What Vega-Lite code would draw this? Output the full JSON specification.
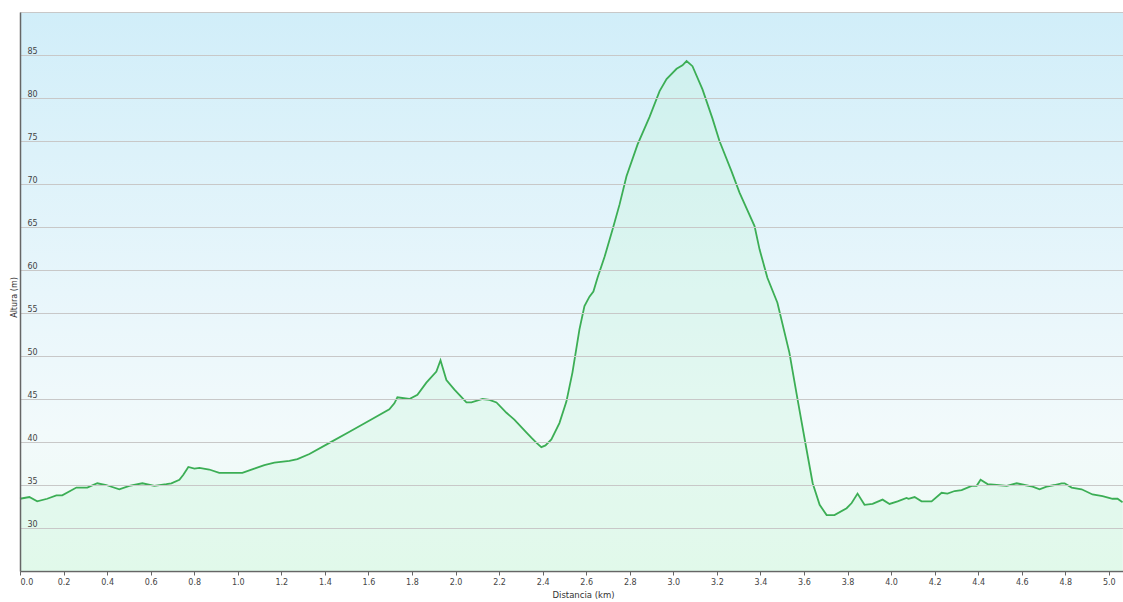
{
  "$schema": "https://vega.github.io/schema/vega-lite/v6.json",
  "width": 1103,
  "height": 559,
  "autosize": "none",
  "padding": {"left": 20, "top": 12, "right": 0, "bottom": 31},
  "background": "#ffffff",
  "config": {
    "font": "DejaVu Sans",
    "view": {
      "stroke": "#c8c8c8",
      "strokeWidth": 1,
      "fill": {"gradient": "linear", "x1": 0, "y1": 0, "x2": 0, "y2": 1,
        "stops": [
          {"offset": 0, "color": "#d1eef9"},
          {"offset": 0.5, "color": "#e8f6fb"},
          {"offset": 0.75, "color": "#f2fafb"},
          {"offset": 1, "color": "#eefbf3"}
        ]}
    }
  },
  "data": {"values": [
    {"d": 0, "h": 33.4}, {"d": 0.043, "h": 33.6}, {"d": 0.079, "h": 33.1}, {"d": 0.125, "h": 33.4},
    {"d": 0.167, "h": 33.8}, {"d": 0.194, "h": 33.8}, {"d": 0.259, "h": 34.7}, {"d": 0.309, "h": 34.7},
    {"d": 0.355, "h": 35.2}, {"d": 0.396, "h": 35.0}, {"d": 0.456, "h": 34.5}, {"d": 0.502, "h": 34.9},
    {"d": 0.562, "h": 35.2}, {"d": 0.617, "h": 34.9}, {"d": 0.672, "h": 35.1}, {"d": 0.695, "h": 35.2},
    {"d": 0.732, "h": 35.6}, {"d": 0.750, "h": 36.2}, {"d": 0.773, "h": 37.1}, {"d": 0.801, "h": 36.9},
    {"d": 0.824, "h": 37.0}, {"d": 0.869, "h": 36.8}, {"d": 0.915, "h": 36.4}, {"d": 1.021, "h": 36.4},
    {"d": 1.076, "h": 36.9}, {"d": 1.122, "h": 37.3}, {"d": 1.168, "h": 37.6}, {"d": 1.237, "h": 37.8},
    {"d": 1.274, "h": 38.0}, {"d": 1.329, "h": 38.6}, {"d": 1.421, "h": 39.9}, {"d": 1.513, "h": 41.2},
    {"d": 1.605, "h": 42.5}, {"d": 1.696, "h": 43.8}, {"d": 1.719, "h": 44.5}, {"d": 1.733, "h": 45.2},
    {"d": 1.788, "h": 45.0}, {"d": 1.825, "h": 45.5}, {"d": 1.866, "h": 46.9}, {"d": 1.912, "h": 48.2},
    {"d": 1.931, "h": 49.5}, {"d": 1.958, "h": 47.2}, {"d": 1.995, "h": 46.1}, {"d": 2.050, "h": 44.6},
    {"d": 2.073, "h": 44.6}, {"d": 2.124, "h": 45.0}, {"d": 2.156, "h": 44.9}, {"d": 2.188, "h": 44.6},
    {"d": 2.234, "h": 43.4}, {"d": 2.270, "h": 42.6}, {"d": 2.326, "h": 41.1}, {"d": 2.348, "h": 40.5},
    {"d": 2.372, "h": 39.9}, {"d": 2.394, "h": 39.4}, {"d": 2.413, "h": 39.6}, {"d": 2.440, "h": 40.3},
    {"d": 2.477, "h": 42.2}, {"d": 2.509, "h": 44.7}, {"d": 2.537, "h": 48.1}, {"d": 2.569, "h": 53.1},
    {"d": 2.592, "h": 55.8}, {"d": 2.615, "h": 56.9}, {"d": 2.633, "h": 57.5}, {"d": 2.652, "h": 59.1},
    {"d": 2.684, "h": 61.5}, {"d": 2.721, "h": 64.7}, {"d": 2.753, "h": 67.6}, {"d": 2.785, "h": 70.9},
    {"d": 2.836, "h": 74.6}, {"d": 2.891, "h": 77.8}, {"d": 2.937, "h": 80.8}, {"d": 2.969, "h": 82.2},
    {"d": 3.015, "h": 83.4}, {"d": 3.042, "h": 83.8}, {"d": 3.061, "h": 84.3}, {"d": 3.088, "h": 83.7},
    {"d": 3.134, "h": 81.0}, {"d": 3.180, "h": 77.6}, {"d": 3.212, "h": 75.0}, {"d": 3.267, "h": 71.5},
    {"d": 3.304, "h": 69.0}, {"d": 3.373, "h": 65.1}, {"d": 3.396, "h": 62.4}, {"d": 3.432, "h": 59.1},
    {"d": 3.478, "h": 56.2}, {"d": 3.533, "h": 50.4}, {"d": 3.571, "h": 44.9}, {"d": 3.612, "h": 39.1},
    {"d": 3.640, "h": 35.2}, {"d": 3.672, "h": 32.7}, {"d": 3.704, "h": 31.5}, {"d": 3.740, "h": 31.5},
    {"d": 3.796, "h": 32.3}, {"d": 3.819, "h": 32.9}, {"d": 3.846, "h": 34.0}, {"d": 3.878, "h": 32.7},
    {"d": 3.915, "h": 32.8}, {"d": 3.961, "h": 33.3}, {"d": 3.993, "h": 32.8}, {"d": 4.030, "h": 33.1},
    {"d": 4.071, "h": 33.5}, {"d": 4.080, "h": 33.4}, {"d": 4.108, "h": 33.6}, {"d": 4.140, "h": 33.1},
    {"d": 4.186, "h": 33.1}, {"d": 4.232, "h": 34.1}, {"d": 4.259, "h": 34.0}, {"d": 4.292, "h": 34.3},
    {"d": 4.324, "h": 34.4}, {"d": 4.370, "h": 34.9}, {"d": 4.393, "h": 34.9}, {"d": 4.411, "h": 35.6},
    {"d": 4.443, "h": 35.1}, {"d": 4.485, "h": 35.0}, {"d": 4.531, "h": 34.9}, {"d": 4.577, "h": 35.2},
    {"d": 4.613, "h": 35.0}, {"d": 4.650, "h": 34.8}, {"d": 4.682, "h": 34.5}, {"d": 4.714, "h": 34.8},
    {"d": 4.751, "h": 35.0}, {"d": 4.783, "h": 35.2}, {"d": 4.797, "h": 35.2}, {"d": 4.829, "h": 34.7},
    {"d": 4.875, "h": 34.5}, {"d": 4.925, "h": 33.9}, {"d": 4.971, "h": 33.7}, {"d": 5.017, "h": 33.4},
    {"d": 5.040, "h": 33.4}, {"d": 5.063, "h": 33.0}
  ]},
  "encoding": {
    "x": {
      "field": "d", "type": "quantitative",
      "scale": {"domain": [0, 5.065], "nice": false, "zero": false},
      "axis": {
        "title": "Distancia (km)",
        "values": [0, 0.2, 0.4, 0.6, 0.8, 1.0, 1.2, 1.4, 1.6, 1.8, 2.0, 2.2, 2.4, 2.6, 2.8, 3.0, 3.2, 3.4, 3.6, 3.8, 4.0, 4.2, 4.4, 4.6, 4.8, 5.0],
        "format": ".1f",
        "grid": false,
        "domainColor": "#666666", "domainWidth": 1.5,
        "tickColor": "#666666", "tickSize": 4, "tickWidth": 1,
        "labelFontSize": 8, "labelColor": "#444444", "labelPadding": 3,
        "titleFontSize": 8.5, "titleFontWeight": "normal", "titleColor": "#333333",
        "titlePadding": 4, "titleX": 563
      }
    },
    "y": {
      "field": "h", "type": "quantitative",
      "scale": {"domain": [25, 90], "nice": false, "zero": false},
      "axis": {
        "title": "Altura (m)",
        "values": [30, 35, 40, 45, 50, 55, 60, 65, 70, 75, 80, 85],
        "grid": true, "gridColor": "#c8c8c8", "gridWidth": 1,
        "ticks": false, "tickSize": 0,
        "domainColor": "#666666", "domainWidth": 1.5,
        "labelAlign": "left", "labelPadding": -7, "labelBaseline": "alphabetic", "labelOffset": -2,
        "labelFontSize": 8, "labelColor": "#444444",
        "titleFontSize": 8, "titleFontWeight": "normal", "titleColor": "#333333",
        "titleX": -6, "titleY": 285, "titleAngle": -90, "titleBaseline": "middle", "titleAlign": "center",
        "zindex": 1
      }
    }
  },
  "layer": [
    {"mark": {"type": "area", "color": "#c4f5d6", "fillOpacity": 0.3}, "encoding": {"y2": {"datum": 25}}},
    {"mark": {"type": "line", "color": "#3cae55", "strokeWidth": 1.8}}
  ]
}
